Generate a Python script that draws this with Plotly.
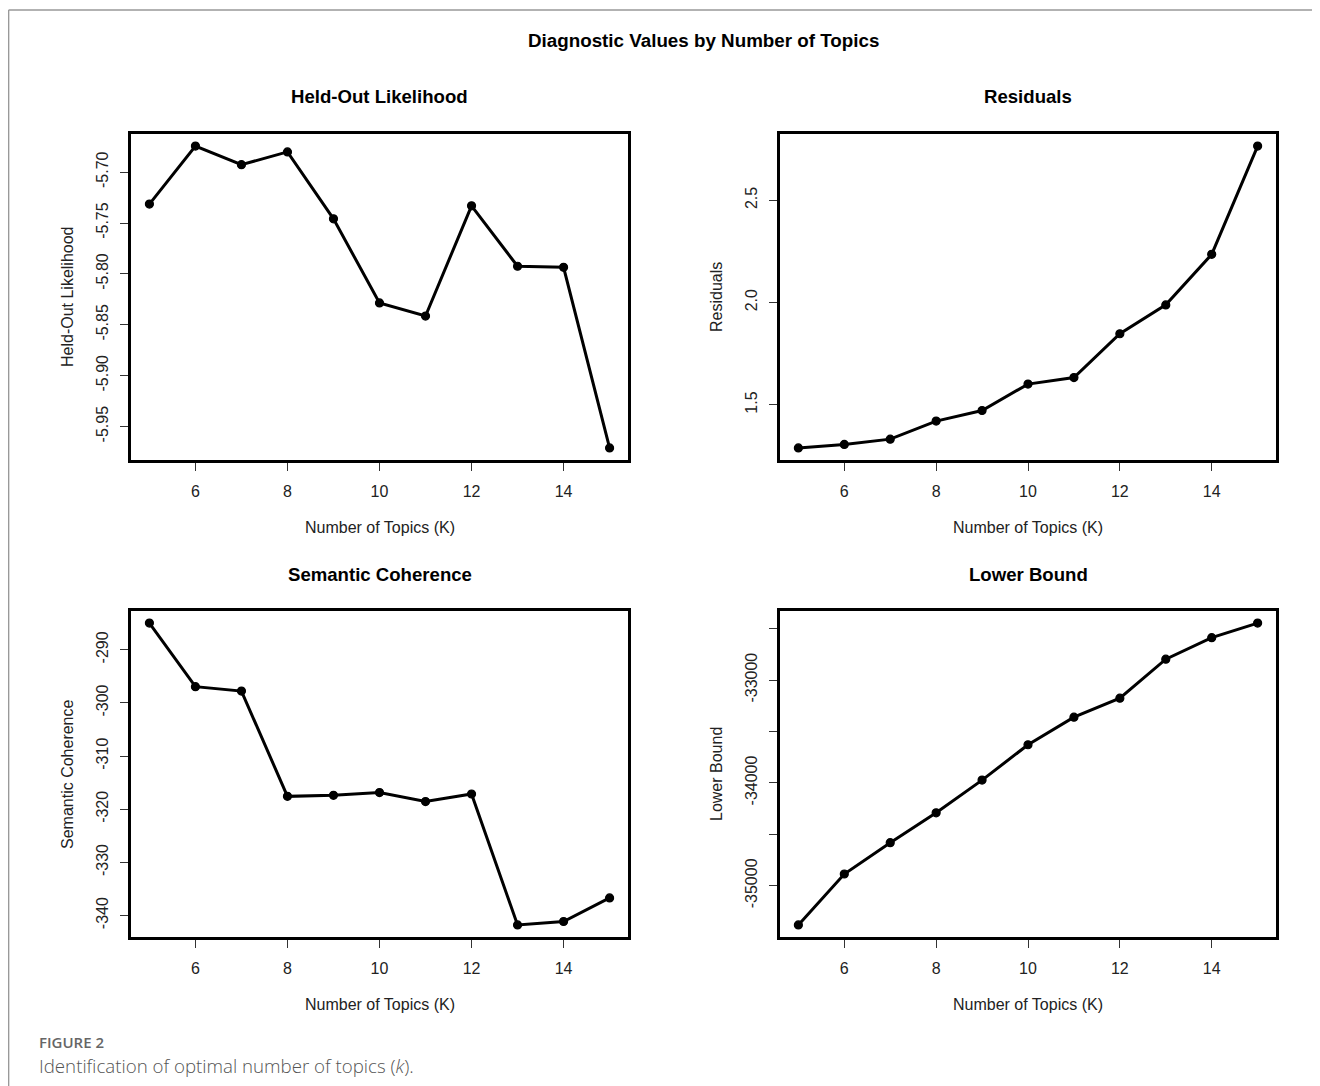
import plotly.graph_objects as go

W, H = 1320, 1086
OFF = 8  # browser body margin

# ---- data ----
k_topics = [5, 6, 7, 8, 9, 10, 11, 12, 13, 14, 15]
heldout = [-5.7314, -5.6744, -5.6927, -5.6801, -5.7459, -5.8285, -5.8414, -5.7331, -5.7925, -5.7935, -5.9710]
residuals = [1.290, 1.307, 1.333, 1.421, 1.473, 1.602, 1.634, 1.848, 1.989, 2.236, 2.765]
semcoh = [-284.97, -296.93, -297.77, -317.58, -317.39, -316.87, -318.56, -317.13, -341.77, -341.13, -336.68]
lbound = [-35381, -34886, -34581, -34291, -33973, -33629, -33361, -33176, -32797, -32588, -32446]

x_ticks = [6, 8, 10, 12, 14]
heldout_ticks = [-5.70, -5.75, -5.80, -5.85, -5.90, -5.95]
heldout_labels = ["-5.70", "-5.75", "-5.80", "-5.85", "-5.90", "-5.95"]
resid_ticks = [1.5, 2.0, 2.5]
resid_labels = ["1.5", "2.0", "2.5"]
sem_ticks = [-290, -300, -310, -320, -330, -340]
sem_labels = ["-290", "-300", "-310", "-320", "-330", "-340"]
lb_ticks = [-32500, -33000, -33500, -34000, -34500, -35000]
lb_labels = ["", "-33000", "", "-34000", "", "-35000"]

panel_titles = ["Held-Out Likelihood", "Residuals", "Semantic Coherence", "Lower Bound"]
main_title = "Diagnostic Values by Number of Topics"
x_title = "Number of Topics (K)"


def px(x):
    return (x - OFF) / W


def py(y):
    return 1 - (y - OFF) / H


def rlim(v):
    lo, hi = min(v), max(v)
    d = (hi - lo) * 0.04
    return [lo - d, hi + d]


FONT = "Liberation Sans, Arial, sans-serif"
CAPFONT = "Open Sans, Noto Sans, sans-serif"

panels = [
    dict(y=heldout, ticks=heldout_ticks, labels=heldout_labels, box=(131, 628, 134, 460)),
    dict(y=residuals, ticks=resid_ticks, labels=resid_labels, box=(780, 1276, 134, 460)),
    dict(y=semcoh, ticks=sem_ticks, labels=sem_labels, box=(131, 628, 611, 937)),
    dict(y=lbound, ticks=lb_ticks, labels=lb_labels, box=(780, 1276, 611, 937)),
]

fig = go.Figure()
annotations = []
layout = {}

for i, p in enumerate(panels):
    n = i + 1
    xa = "x" if n == 1 else f"x{n}"
    ya = "y" if n == 1 else f"y{n}"
    l, r, t, b = p["box"]
    fig.add_trace(go.Scatter(
        x=k_topics, y=p["y"], xaxis=xa, yaxis=ya, mode="lines+markers",
        line=dict(color="black", width=3),
        marker=dict(color="black", size=8, line=dict(color="black", width=1.2)),
        showlegend=False, hoverinfo="x+y",
    ))
    axis_common = dict(
        showline=True, linecolor="black", linewidth=2.5, mirror=True,
        showgrid=False, zeroline=False,
        ticks="outside", ticklen=8, tickwidth=1.2, tickcolor="#333",
        tickfont=dict(family=FONT, size=16, color="#222"),
    )
    layout["xaxis" if n == 1 else f"xaxis{n}"] = dict(
        axis_common, domain=[px(l), px(r)], range=[4.6, 15.4],
        tickvals=x_ticks, ticktext=[str(v) for v in x_ticks],
        anchor=ya, ticklabelstandoff=7,
    )
    layout["yaxis" if n == 1 else f"yaxis{n}"] = dict(
        axis_common, domain=[py(b), py(t)], range=rlim(p["y"]),
        tickvals=p["ticks"], ticktext=p["labels"], tickangle=-90,
        anchor=xa, ticklabelstandoff=6,
    )
    cx = (l + r) / 2
    annotations.append(dict(
        text=f"<b>{panel_titles[i]}</b>", x=px(cx), y=py(t - 37), xref="paper", yref="paper",
        xanchor="center", yanchor="middle", showarrow=False,
        font=dict(family=FONT, size=18.6, color="black"),
    ))
    annotations.append(dict(
        text=x_title, x=px(cx), y=py(b + 67), xref="paper", yref="paper",
        xanchor="center", yanchor="middle", showarrow=False,
        font=dict(family=FONT, size=16, color="#222"),
    ))
    annotations.append(dict(
        text=panel_titles[i], x=px(l - 64), y=py((t + b) / 2), xref="paper", yref="paper",
        xanchor="center", yanchor="middle", showarrow=False, textangle=-90,
        font=dict(family=FONT, size=16, color="#222"),
    ))

annotations.append(dict(
    text=f"<b>{main_title}</b>", x=px(703), y=py(41), xref="paper", yref="paper",
    xanchor="center", yanchor="middle", showarrow=False,
    font=dict(family=FONT, size=18.8, color="black"),
))
annotations.append(dict(
    text="FIGURE 2", x=px(37), y=py(1042), xref="paper", yref="paper",
    xanchor="left", yanchor="middle", showarrow=False,
    font=dict(family=CAPFONT, size=15, color="#666", weight=600),
))
annotations.append(dict(
    text="Identification of optimal number of topics (<i>k</i>).", x=px(37), y=py(1065),
    xref="paper", yref="paper", xanchor="left", yanchor="middle", showarrow=False,
    font=dict(family=CAPFONT, size=18.7, color="#555", weight=300),
))

shapes = [
    dict(type="line", xref="paper", yref="paper", x0=px(8.6), x1=1, y0=py(10), y1=py(10),
         line=dict(color="#999", width=1.5)),
    dict(type="line", xref="paper", yref="paper", x0=px(8.6), x1=px(8.6), y0=py(10), y1=0,
         line=dict(color="#999", width=1.5)),
]

fig.update_layout(
    **layout,
    width=W, height=H,
    margin=dict(l=0, r=0, t=0, b=0),
    paper_bgcolor="white", plot_bgcolor="white",
    annotations=annotations, shapes=shapes,
    showlegend=False,
)

fig.write_html("out.html")
